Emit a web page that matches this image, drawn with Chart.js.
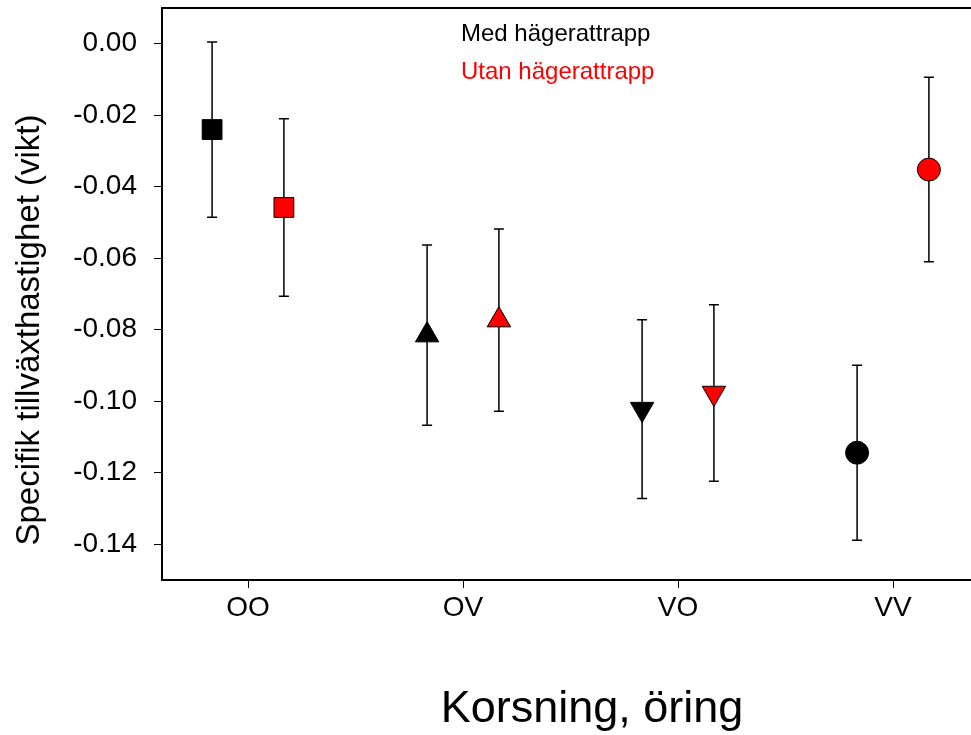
<!DOCTYPE html>
<html lang="sv">
<head>
  <meta charset="UTF-8" />
  <title>Specifik tillväxthastighet</title>
  <script src="https://cdn.jsdelivr.net/npm/chart.js"></script>
  <style>
    body {
      margin: 0;
      background: #fff;
      overflow: hidden;
    }
    /* the plot runs past the right edge of the window, as in the original figure */
    #wrap {
      width: 1040px;
      height: 735px;
    }
  </style>
</head>
<body>
  <div id="wrap">
    <canvas id="growthChart"></canvas>
  </div>

  <script>
    const categories = ['OO', 'OV', 'VO', 'VV'];
    const seriesNames = ['Med hägerattrapp', 'Utan hägerattrapp'];
    const yTitle = 'Specifik tillväxthastighet (vikt)';

    // mean and error (half-length of the bar) per crossing
    const medMean = [-0.024, -0.0815, -0.1022, -0.1144];
    const medErr = [0.0245, 0.0252, 0.0250, 0.0245];
    const utanMean = [-0.0458, -0.0773, -0.0977, -0.0352];
    const utanErr = [0.0248, 0.0255, 0.0247, 0.0258];

    const yTicks = [0, -0.02, -0.04, -0.06, -0.08, -0.10, -0.12, -0.14];

    const dodge = 0.167;
    const FONT = '"Liberation Sans", Arial, sans-serif';

    function points(means, errs, shift) {
      return categories.map((c, i) => ({ x: i + shift, y: means[i], err: errs[i] }));
    }

    // vertical error bars with caps, drawn under the markers
    const errorBars = {
      id: 'errorBars',
      beforeDatasetsDraw(chart) {
        const { ctx, scales: { x, y } } = chart;
        ctx.save();
        ctx.strokeStyle = '#000';
        ctx.lineWidth = 1.5;
        chart.data.datasets.forEach(ds => {
          ds.data.forEach(p => {
            const px = x.getPixelForValue(p.x);
            const top = y.getPixelForValue(p.y + p.err);
            const bot = y.getPixelForValue(p.y - p.err);
            ctx.beginPath();
            ctx.moveTo(px, top);
            ctx.lineTo(px, bot);
            ctx.moveTo(px - 5, top);
            ctx.lineTo(px + 5, top);
            ctx.moveTo(px - 5, bot);
            ctx.lineTo(px + 5, bot);
            ctx.stroke();
          });
        });
        ctx.restore();
      }
    };

    // box round the plot, the coloured text legend and the y title
    // (the title sits a bit below the plot centre in the original)
    const frameAndKey = {
      id: 'frameAndKey',
      afterDraw(chart) {
        const { ctx, chartArea: a } = chart;
        ctx.save();
        ctx.strokeStyle = '#000';
        ctx.lineWidth = 2;
        ctx.strokeRect(a.left, a.top, a.right - a.left, a.bottom - a.top);

        ctx.font = '24px ' + FONT;
        ctx.textAlign = 'left';
        ctx.textBaseline = 'alphabetic';
        chart.data.datasets.forEach((ds, i) => {
          ctx.fillStyle = ds.backgroundColor;
          ctx.fillText(ds.label, a.left + 299, a.top + 33 + i * 38);
        });

        ctx.translate(30, (a.top + a.bottom) / 2 + 36);
        ctx.rotate(-Math.PI / 2);
        ctx.font = '33px ' + FONT;
        ctx.fillStyle = '#000';
        ctx.textAlign = 'center';
        ctx.textBaseline = 'middle';
        ctx.fillText(yTitle, 0, 0);
        ctx.restore();
      }
    };

    new Chart(document.getElementById('growthChart'), {
      type: 'scatter',
      data: {
        datasets: [
          {
            label: seriesNames[0],
            data: points(medMean, medErr, -dodge),
            backgroundColor: '#000000',
            borderColor: '#000000',
            borderWidth: 1,
            pointStyle: ['rect', 'triangle', 'triangle', 'circle'],
            rotation: [0, 0, 180, 0],
            pointRadius: [14, 13.5, 13.5, 11.5]
          },
          {
            label: seriesNames[1],
            data: points(utanMean, utanErr, dodge),
            backgroundColor: '#ff0000',
            borderColor: '#000000',
            borderWidth: 1,
            pointStyle: ['rect', 'triangle', 'triangle', 'circle'],
            rotation: [0, 0, 180, 0],
            pointRadius: [14, 13.5, 13.5, 11.5]
          }
        ]
      },
      options: {
        responsive: true,
        maintainAspectRatio: false,
        animation: false,
        layout: { autoPadding: false, padding: { top: 8, right: 18, left: 0, bottom: 0 } },
        plugins: {
          legend: { display: false },
          tooltip: { enabled: false }
        },
        scales: {
          x: {
            type: 'linear',
            min: -0.4,
            max: 3.6,
            afterFit(scale) {
              scale.height = 155;
              scale.paddingLeft = 0;
              scale.paddingRight = 0;
            },
            afterBuildTicks(scale) { scale.ticks = categories.map((c, i) => ({ value: i })); },
            grid: { drawOnChartArea: false, drawTicks: true, tickLength: 8, color: '#000', lineWidth: 1 },
            border: { display: false },
            ticks: {
              color: '#000',
              padding: 3,
              font: { family: FONT, size: 28 },
              callback: v => categories[v]
            },
            title: {
              display: true,
              text: 'Korsning, öring',
              color: '#000',
              font: { family: FONT, size: 45 },
              padding: { top: 0, bottom: -2 }
            }
          },
          y: {
            min: -0.15,
            max: 0.01,
            afterFit(scale) {
              scale.width = 162;
              scale.paddingTop = 0;
              scale.paddingBottom = 0;
            },
            afterBuildTicks(scale) { scale.ticks = yTicks.map(v => ({ value: v })); },
            grid: { drawOnChartArea: false, drawTicks: true, tickLength: 8, color: '#000', lineWidth: 1 },
            border: { display: false },
            ticks: {
              color: '#000',
              padding: 17,
              font: { family: FONT, size: 28 },
              callback: v => v.toFixed(2)
            },
            title: { display: false }
          }
        }
      },
      plugins: [errorBars, frameAndKey]
    });
  </script>
</body>
</html>
